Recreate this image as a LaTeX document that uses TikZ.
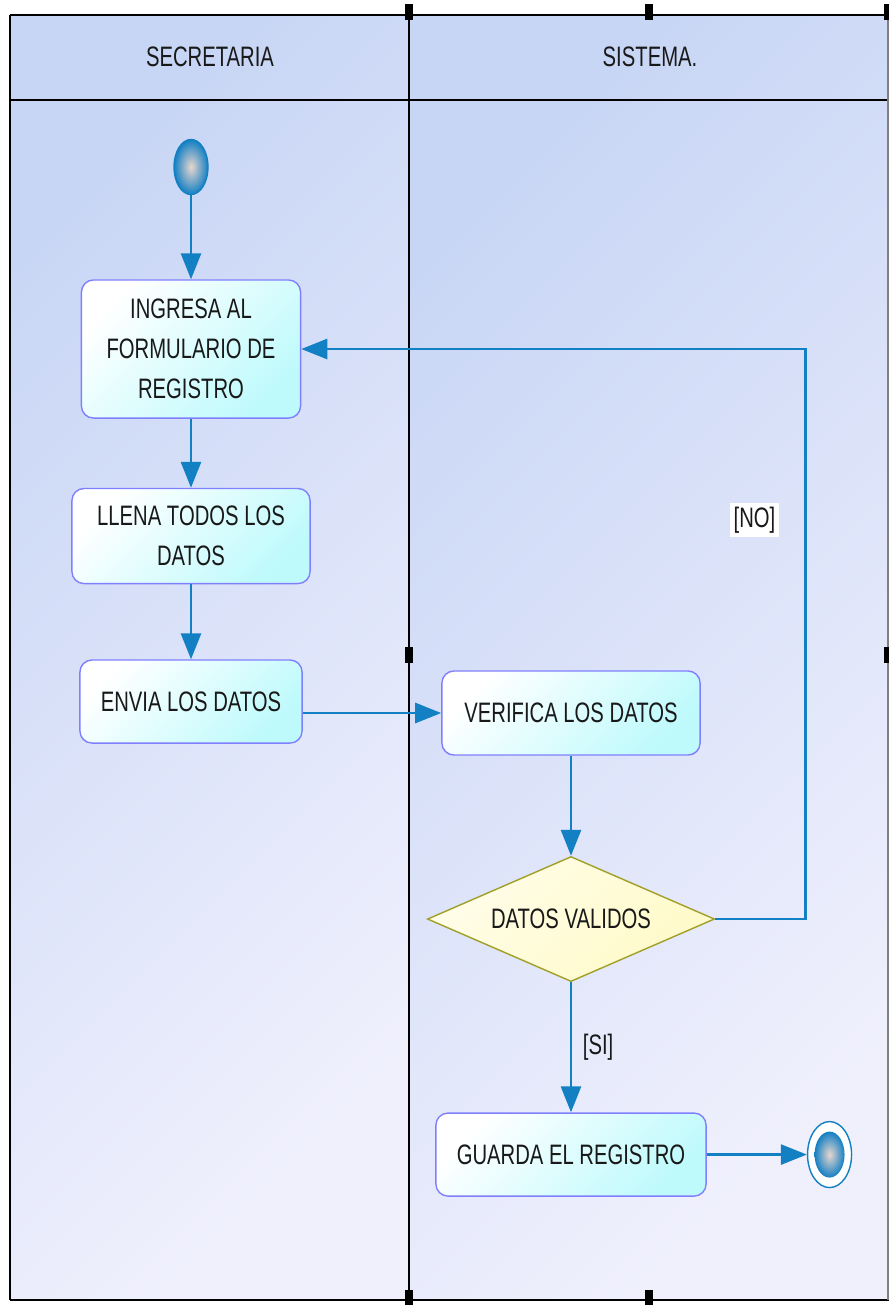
\documentclass[tikz,border=0pt]{standalone}
\usepackage{fontspec}
\setmainfont{Liberation Sans}[FakeStretch=0.72]
\usetikzlibrary{positioning, shapes.geometric, arrows.meta}
\definecolor{azul}{RGB}{20,128,196}
\definecolor{nucleo}{RGB}{232,214,206}
\definecolor{borde}{RGB}{128,128,255}
\definecolor{celeste}{RGB}{190,250,252}
\definecolor{carrilA}{RGB}{200,214,245}
\definecolor{carrilB}{RGB}{240,240,253}
\definecolor{crema}{RGB}{255,250,200}
\definecolor{oliva}{RGB}{160,160,40}
\definecolor{texto}{RGB}{25,25,25}
\tikzset{>={Triangle[length=0.26cm,width=0.2cm]}, node distance=1cm}

\begin{document}
\begin{tikzpicture}[x=0.01cm, y=-0.01cm,
  every node/.style={font=\fontsize{8}{11.3}\selectfont, text=texto},
  actividad/.style={draw=borde, rounded corners=0.12cm, top color=white, bottom color=celeste, shading angle=45, align=center, inner sep=2pt},
  decision/.style={diamond, aspect=2.3, draw=oliva, top color=white!60!crema, bottom color=crema, shading angle=45, minimum width=2.87cm, minimum height=1.25cm, inner sep=0pt},
  inicial/.style={ellipse, draw=azul, inner color=nucleo, outer color=azul, minimum width=0.34cm, minimum height=0.55cm, inner sep=0pt},
  final/.style={ellipse, draw=azul, fill=white, minimum width=0.44cm, minimum height=0.66cm, inner sep=0pt},
  finalin/.style={ellipse, inner color=nucleo, outer color=azul, minimum width=0.3cm, minimum height=0.46cm, inner sep=0pt},
  flujo/.style={->, draw=azul, line width=0.8pt},
  etiqueta/.style={inner sep=1pt}]
\useasboundingbox (0,0) rectangle (889,1305);

% carriles
\shade[top color=carrilA, bottom color=carrilB, shading angle=45] (10,15) rectangle (409,1300);
\shade[top color=carrilA, bottom color=carrilB, shading angle=45] (409,15) rectangle (889,1300);
\draw[line width=0.7pt] (10,15) -- (889,15) (10,100) -- (889,100) (10,1300) -- (889,1300) (10,15) -- (10,1300);
\draw[gray, line width=0.5pt] (888,15) -- (888,1300);
\draw[line width=0.6pt] (409,15) -- (409,1300);
\node (secretaria) at (210,57) {SECRETARIA};
\node (sistema) at (650,57) {SISTEMA.};
\foreach \x/\y in {409/12, 649/12, 888/12, 409/655, 888/655, 409/1298, 649/1298}
  \fill ({\x-4},{\y-8}) rectangle ({\x+4},{\y+8});

% actividades
\node[inicial] (inicio) at (191,167) {};
\node[actividad, minimum width=2.19cm, minimum height=1.38cm, below=0.84cm of inicio] (ingresa) {INGRESA AL\\FORMULARIO DE\\REGISTRO};
\node[actividad, minimum width=2.38cm, minimum height=0.95cm, below=0.69cm of ingresa] (llena) {LLENA TODOS LOS\\DATOS};
\node[actividad, minimum width=2.22cm, minimum height=0.83cm, below=0.75cm of llena] (envia) {ENVIA LOS DATOS};
\node[actividad, minimum width=2.58cm, minimum height=0.84cm] (verifica) at (571,713) {VERIFICA LOS DATOS};
\node[decision, below=1cm of verifica] (valido) {DATOS VALIDOS};
\node[actividad, minimum width=2.7cm, minimum height=0.83cm, below=1.3cm of valido] (guarda) {GUARDA EL REGISTRO};
\node[final, right=1cm of guarda] (fin) {};
\node[finalin] (finin) at (fin) {};

% flujos
\draw[flujo] (inicio) -- (ingresa);
\draw[flujo] (ingresa) -- (llena);
\draw[flujo] (llena) -- (envia);
\draw[flujo] (envia.east |- verifica) -- (verifica.west);
\draw[flujo] (verifica) -- (valido);
\draw[flujo] (valido.east) -- ++(90,0) |- (ingresa.east)
  node[etiqueta, fill=white, pos=0.35, left=0.25cm] {[NO]};
\draw[flujo] (valido) -- (guarda) node[etiqueta, midway, right=2pt] {[SI]};
\draw[flujo] (guarda) -- (fin);
\end{tikzpicture}
\end{document}
